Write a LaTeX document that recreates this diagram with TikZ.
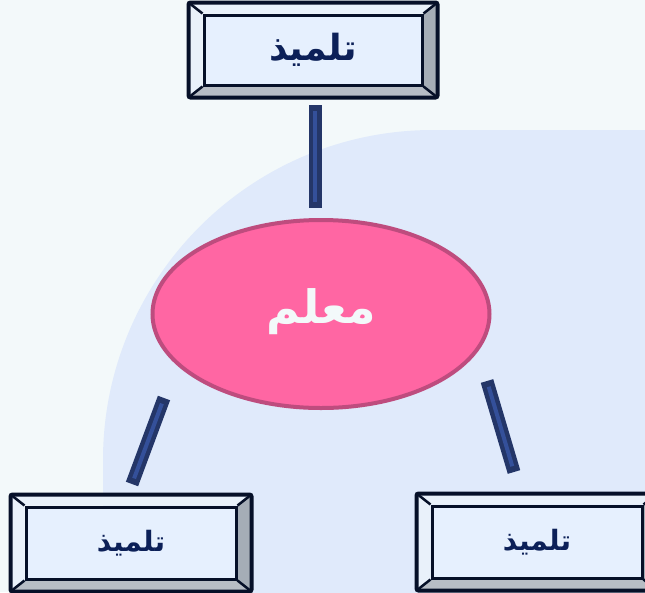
\documentclass[tikz,border=0pt]{standalone}
\usepackage{fontspec}
\newfontfamily\arabicfont[Script=Arabic]{DejaVu Sans}
\TeXXeTstate=1
\usetikzlibrary{shapes.geometric,calc}
\definecolor{bgc}{HTML}{F3F9FA}
\definecolor{blob}{HTML}{E0EAFB}
\definecolor{pinkf}{HTML}{FF66A3}
\definecolor{pinkd}{HTML}{BE4C7E}
\definecolor{navy}{HTML}{0C2058}
\definecolor{boxin}{HTML}{E6F0FE}
\definecolor{bevlight}{HTML}{E9F1FA}
\definecolor{bevdark}{HTML}{A5ADB6}
\definecolor{framec}{HTML}{061028}
\definecolor{bard}{HTML}{243668}
\definecolor{barl}{HTML}{34509A}
\tikzset{
  innerbox/.style={rectangle, draw=framec, line width=3pt, fill=boxin, inner sep=0pt},
  teacher/.style={ellipse, fill=pinkf, draw=pinkd, line width=4pt, minimum width=337pt, minimum height=188pt, inner sep=0pt},
  barout/.style={line width=13pt, draw=bard, line cap=butt, line join=round},
  barin/.style={line width=4pt, draw=barl, line cap=butt, shorten <=6pt, shorten >=6pt},
}
\newcommand{\pupiltext}{\beginR تلميذ\endR}
\newcommand{\bevbox}[6]{% name, cx, cy, inner w, inner h, fontsize
  \node[innerbox, minimum width=#4pt, minimum height=#5pt] (#1) at (#2,#3) {};
  \path (#1.north west) ++(-14pt,11pt) coordinate (#1-onw);
  \path (#1.north east) ++(14pt,11pt) coordinate (#1-one);
  \path (#1.south west) ++(-14pt,-11pt) coordinate (#1-osw);
  \path (#1.south east) ++(14pt,-11pt) coordinate (#1-ose);
  \fill[bevlight] (#1-onw) -- (#1-one) -- (#1.north east) -- (#1.north west) -- cycle;
  \fill[bevlight] (#1-onw) -- (#1.north west) -- (#1.south west) -- (#1-osw) -- cycle;
  \fill[bevdark] (#1-one) -- (#1-ose) -- (#1.south east) -- (#1.north east) -- cycle;
  \fill[bevdark!80!white] (#1-osw) -- (#1.south west) -- (#1.south east) -- (#1-ose) -- cycle;
  \draw[framec, line width=2.5pt] (#1-onw) -- (#1.north west) (#1-one) -- (#1.north east)
     (#1-osw) -- (#1.south west) (#1-ose) -- (#1.south east);
  \draw[framec, line width=4pt, rounded corners=2pt] (#1-onw) rectangle (#1-ose);
  \node[innerbox, minimum width=#4pt, minimum height=#5pt, text=navy, font=\arabicfont\bfseries\fontsize{#6}{#6}\selectfont] at (#1) {\pupiltext};
}
\begin{document}
\begin{tikzpicture}[x=1pt,y=-1pt]
\useasboundingbox (0,0) rectangle (645,592);
\clip (0,0) rectangle (645,592);
\fill[bgc] (0,0) rectangle (645,592);
\fill[blob, rounded corners=330pt] (103,130) rectangle (1100,1100);
% connectors
\coordinate (t1) at (315,105);
\coordinate (t2) at (315,208);
\coordinate (l1) at (164,398);
\coordinate (l2) at (132,484);
\coordinate (r1) at (487,381);
\coordinate (r2) at (514,472);
\foreach \a/\b in {t1/t2,l1/l2,r1/r2}{
  \draw[barout] (\a) -- (\b);
  \draw[barin] (\a) -- (\b);
}
% teacher
\node[teacher] (T) at (321,314) {};
\node[text=bgc, font=\arabicfont\bfseries\fontsize{46}{46}\selectfont] at (321,312) {\beginR معلم\endR};
% pupils
\bevbox{P1}{313}{50}{218}{70}{36}
\bevbox{P2}{131}{543}{210}{72}{28}
\bevbox{P3}{537}{542}{210}{72}{28}
\end{tikzpicture}
\end{document}
